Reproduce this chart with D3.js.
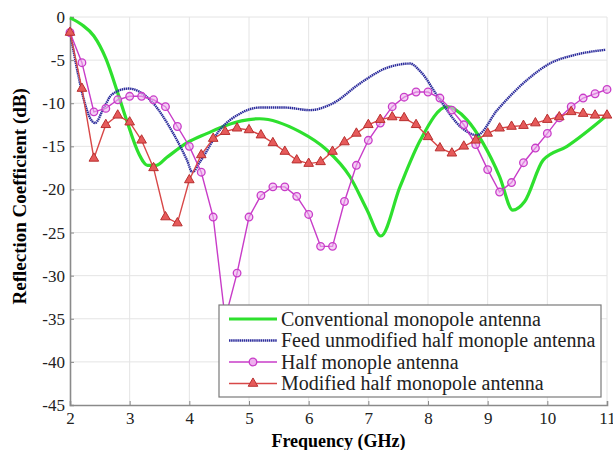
<!DOCTYPE html>
<meta charset="utf-8">
<head>
    <script type="text/javascript" src="https://cdn.jsdelivr.net/npm/d3@7"></script>
    <style>
        body { margin: 0; background: #fff; }
        svg text { font-family: "Liberation Serif" !important; }
        .grid line { stroke: #e4e4e4; stroke-width: 1; }
    </style>
    <title>Reflection Coefficient</title>
</head>
<body>
<div id="chart"></div>
<script>
    var w = 613, h = 450;
    var margin = {left: 70, right: 6, top: 17, bottom: 45};
    var SERIF = "Liberation Serif";

    // x ticks / y ticks
    var xTicks = [2, 3, 4, 5, 6, 7, 8, 9, 10, 11];
    var yTicks = [0, -5, -10, -15, -20, -25, -30, -35, -40, -45];

    // conventional monopole (smooth line, read at uneven freqs)
    var convFreq = [2.0, 2.2, 2.4, 2.6, 2.8, 2.95, 3.15, 3.3, 3.45, 3.62, 3.96, 4.3, 4.6, 5.18, 5.85, 6.3, 6.69, 6.98, 7.21, 7.53, 7.87, 8.32, 8.65, 8.92, 9.2, 9.42, 9.62, 9.93, 10.33, 11.0];
    var convVal  = [-0.1, -0.9, -2.2, -4.8, -8.8, -12.0, -15.8, -17.2, -17.2, -16.3, -14.6, -13.5, -12.6, -11.8, -13.3, -15.4, -18.5, -22.4, -25.4, -19.7, -14.3, -10.4, -11.9, -14.6, -18.5, -22.4, -21.4, -16.6, -15.0, -11.4];

    // feed unmodified half monopole
    var feedFreq = [2.0, 2.42, 2.55, 2.7, 2.98, 3.34, 3.73, 3.96, 4.05, 4.18, 4.51, 4.85, 5.18, 5.6, 6.02, 6.41, 6.86, 7.31, 7.7, 7.87, 8.2, 8.54, 8.82, 9.16, 9.66, 10.04, 10.46, 10.98];
    var feedVal  = [-1.7, -12.3, -10.8, -9.0, -8.3, -9.6, -13.5, -16.6, -18.0, -16.8, -13.1, -11.2, -10.5, -10.5, -10.8, -10.0, -7.7, -5.9, -5.4, -6.3, -9.6, -12.7, -13.7, -10.8, -7.3, -5.4, -4.4, -3.8];

    // marker series, sampled every 0.2 GHz from 2 to 11
    var stepFreq = d3.range(46).map(i => +(2 + i * 0.2).toFixed(1));
    var halfVal = [-1.8, -5.3, -11.0, -10.6, -9.6, -9.2, -9.2, -9.6, -10.4, -12.7,
                   -15.0, -18.0, -23.2, -35.0, -29.7, -23.2, -20.7, -19.7, -19.7, -20.8,
                   -22.9, -26.6, -26.6, -21.4, -17.2, -14.3, -12.3, -10.4, -9.3, -8.7,
                   -8.7, -9.4, -10.8, -12.5, -14.8, -17.7, -20.3, -19.2, -16.9, -15.2,
                   -13.5, -11.7, -10.4, -9.4, -8.9, -8.4];
    var modVal  = [-1.8, -8.3, -16.4, -12.5, -11.4, -12.2, -14.3, -17.5, -23.2, -23.9,
                   -18.9, -16.0, -14.1, -13.3, -12.9, -13.1, -13.7, -14.6, -15.6, -16.6,
                   -17.0, -16.8, -15.6, -14.5, -13.5, -12.5, -11.9, -11.6, -11.7, -12.5,
                   -13.9, -15.2, -15.8, -15.0, -14.3, -13.5, -12.9, -12.7, -12.6, -12.3,
                   -11.9, -11.6, -11.0, -11.2, -11.4, -11.4];

    var legendNames = ["Conventional monopole antenna", "Feed unmodified half monople antenna",
                       "Half monople antenna", "Modified half monopole antenna"];

    var svg = d3.select("#chart").append("svg")
        .attr("width", w).attr("height", h)
        .attr("font-family", SERIF);

    var x = d3.scaleLinear().domain([2, 11]).range([margin.left, w - margin.right]);
    var y = d3.scaleLinear().domain([0, -45]).range([margin.top, h - margin.bottom]);

    // grid
    var grid = svg.append("g").attr("class", "grid");
    grid.selectAll(".gx").data(xTicks.slice(1)).enter().append("line")
        .attr("x1", d => x(d)).attr("x2", d => x(d))
        .attr("y1", y(0)).attr("y2", y(-45));
    grid.selectAll(".gy").data(yTicks.slice(0, -1)).enter().append("line")
        .attr("x1", x(2)).attr("x2", x(11))
        .attr("y1", d => y(d)).attr("y2", d => y(d));

    // axes (plain hyphen for minus, like the original)
    var fmt = d => String(d);
    var xAxis = d3.axisBottom(x).tickValues(xTicks).tickSize(-4).tickPadding(5).tickFormat(fmt);
    var yAxis = d3.axisLeft(y).tickValues(yTicks).tickSize(-4).tickPadding(5).tickFormat(fmt);

    var gx = svg.append("g").attr("transform", "translate(0," + y(-45) + ")").call(xAxis);
    var gy = svg.append("g").attr("transform", "translate(" + x(2) + ",0)").call(yAxis);
    [gx, gy].forEach(g => {
        g.attr("font-family", SERIF).attr("font-size", 18);
        g.select(".domain").attr("stroke", "#8a8a8a").attr("stroke-width", 1.6);
        g.selectAll(".tick line").attr("stroke", "#8a8a8a");
        g.selectAll(".tick text").attr("fill", "#222")
            .attr("font-family", SERIF)
            .style("font-family", SERIF).style("font-size", "17px");
    });
    gx.selectAll(".tick text").attr("dy", "0.8em");

    svg.append("text")
        .attr("font-family", SERIF)
        .style("font-family", SERIF).style("font-weight", "bold").style("font-size", "18px")
        .attr("x", x(6.5)).attr("y", 447).attr("text-anchor", "middle")
        .text("Frequency (GHz)");
    svg.append("text")
        .attr("font-family", SERIF)
        .style("font-family", SERIF).style("font-weight", "bold").style("font-size", "19px")
        .attr("transform", "translate(26," + y(-20.8) + ") rotate(-90)")
        .attr("text-anchor", "middle")
        .text("Reflection Coefficient (dB)");

    var plot = svg.append("g");

    var smooth = d3.line().x(d => x(d[0])).y(d => y(d[1])).curve(d3.curveMonotoneX);
    var straight = d3.line().x(d => x(d[0])).y(d => y(d[1]));

    var conv = d3.zip(convFreq, convVal);
    var feed = d3.zip(feedFreq, feedVal);
    var half = d3.zip(stepFreq, halfVal);
    var mod = d3.zip(stepFreq, modVal);

    const GREEN = "#2ee02e", BLUE = "#2c2c9c", PINK = "#c83cc8", RED = "#d84848";

    plot.append("path").attr("d", smooth(conv))
        .attr("fill", "none").attr("stroke", GREEN).attr("stroke-width", 3.2);
    plot.append("path").attr("d", smooth(feed))
        .attr("fill", "none").attr("stroke", BLUE).attr("stroke-width", 2.4)
        .attr("stroke-dasharray", "1.5,0.6");
    plot.append("path").attr("d", straight(half))
        .attr("fill", "none").attr("stroke", PINK).attr("stroke-width", 1.4);
    plot.selectAll(".circ").data(half).enter().append("circle")
        .attr("cx", d => x(d[0])).attr("cy", d => y(d[1])).attr("r", 3.8)
        .attr("fill", "#eeb0ee").attr("fill-opacity", 0.6)
        .attr("stroke", PINK).attr("stroke-width", 1.3);
    plot.append("path").attr("d", straight(mod))
        .attr("fill", "none").attr("stroke", RED).attr("stroke-width", 1.4);
    var tri = d3.symbol().type(d3.symbolTriangle).size(40);
    plot.selectAll(".tri").data(mod).enter().append("path")
        .attr("d", tri)
        .attr("transform", d => "translate(" + x(d[0]) + "," + y(d[1]) + ")")
        .attr("fill", "#e65a5a").attr("stroke", "#b83030").attr("stroke-width", 1);

    // legend
    var legend = svg.append("g");
    legend.append("rect").attr("x", 219).attr("y", 305).attr("width", 382).attr("height", 92)
        .attr("fill", "#fff").attr("stroke", "#7a7a7a").attr("stroke-width", 1.2);
    var colors = [GREEN, BLUE, PINK, RED];
    var widths = [3.2, 2.4, 1.4, 1.4];
    legendNames.forEach((name, i) => {
        var ly = 319 + i * 21.5;
        legend.append("line").attr("x1", 229).attr("x2", 277).attr("y1", ly).attr("y2", ly)
            .attr("stroke", colors[i]).attr("stroke-width", widths[i])
            .attr("stroke-dasharray", i == 1 ? "1.5,0.6" : null);
        if (i == 2) {
            legend.append("circle").attr("cx", 253).attr("cy", ly).attr("r", 3.8)
                .attr("fill", "#eeb0ee").attr("stroke", PINK).attr("stroke-width", 1.3);
        }
        if (i == 3) {
            legend.append("path").attr("d", tri).attr("transform", "translate(253," + ly + ")")
                .attr("fill", "#e65a5a").attr("stroke", "#b83030");
        }
        legend.append("text")
            .attr("font-family", SERIF)
            .style("font-family", SERIF).style("font-size", "20px").attr("fill", "#222")
            .attr("x", 281).attr("y", ly).attr("dy", "0.33em").text(name);
    });
</script>
</body>
</html>
